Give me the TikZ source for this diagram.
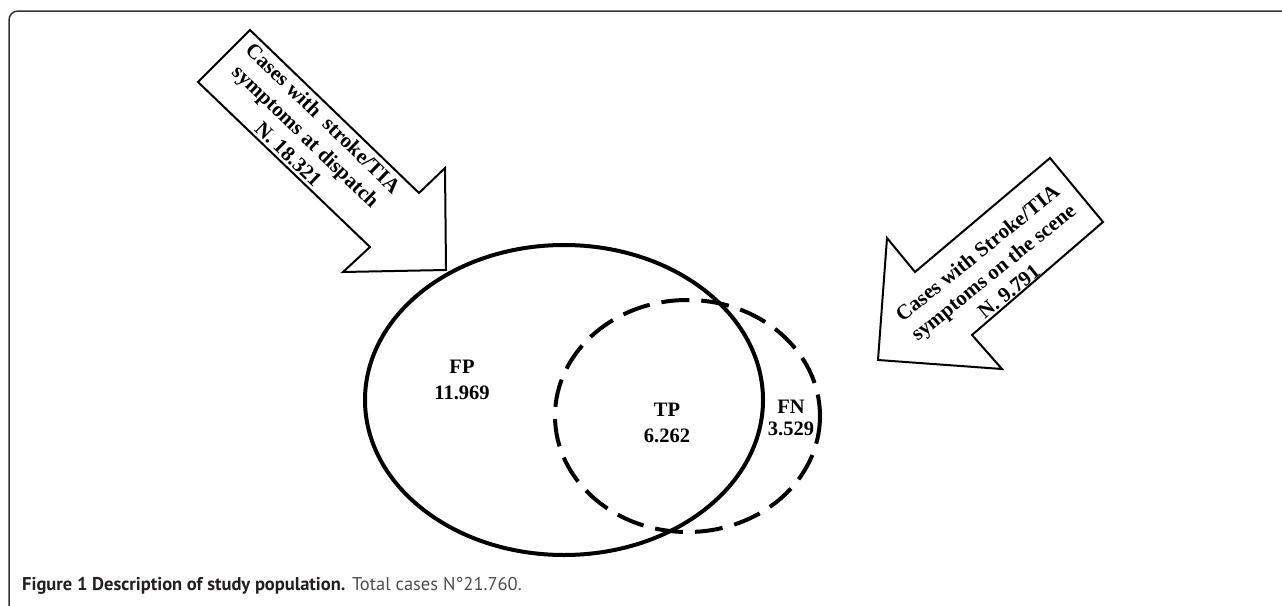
\documentclass[tikz,border=0pt]{standalone}
\usepackage{fontspec}
\setmainfont{Liberation Serif}
\newfontfamily\capfont{PT Sans}
\definecolor{framecol}{gray}{0.2}
\definecolor{capdark}{HTML}{231F20}
\definecolor{capgray}{HTML}{4D4D4D}
\begin{document}
\begin{tikzpicture}[x=1pt,y=-1pt,
  framestyle/.style={draw=framecol,line width=1.5pt,rounded corners=9pt},
  arrowshape/.style={draw=black,line width=2pt,line join=miter,fill=white},
  solidset/.style={draw=black,line width=4pt},
  dashedset/.style={draw=black,line width=4pt,dash pattern=on 28pt off 12pt},
  arrowtext/.style={font=\bfseries\fontsize{21}{25}\selectfont,align=center,inner sep=0pt},
  vlabel/.style={font=\bfseries\fontsize{20.5}{26}\selectfont,align=center,inner sep=0pt},
  captext/.style={font=\capfont\fontsize{18.5}{22}\selectfont,anchor=base west,inner sep=0pt}]
\useasboundingbox (0,0) rectangle (1282,605);
\clip (0,0) rectangle (1282,605);
% frame
\draw[framestyle] (1300,11) -- (9,11) -- (9,620) -- (40,620);
% sets
\draw[solidset] (564,400) ellipse [x radius=199, y radius=155];
\draw[dashedset] (687.5,416) ellipse [x radius=132.5, y radius=116];
% left arrow
\draw[arrowshape] (250,30) coordinate (la1) -- (419,193) -- (445,168) -- (446,270) coordinate (ltip) -- (343,272) -- (370,247) -- (198,82) -- cycle;
\node[arrowtext,rotate=-44] (ltext) at (306,136) {Cases with\ \ stroke/TIA\\symptoms at dispatch\\N. 18.321};
% right arrow
\draw[arrowshape] (1050,158) coordinate (ra1) -- (915,272) -- (887,238) -- (878,360) coordinate (rtip) -- (1002,369) -- (972,335) -- (1103,222) -- cycle;
\node[arrowtext,rotate=39] (rtext) at (993,272) {Cases with Stroke/TIA\\symptoms on the scene\\N. 9.791};
% labels
\node[vlabel] (fp) at (462,380) {FP\\11.969};
\node[vlabel] (tp) at (667,423) {TP\\6.262};
\node[vlabel,font=\bfseries\fontsize{20.5}{22}\selectfont] (fn) at (791,418) {FN\\3.529};
% caption
\node[captext] (cap) at (22,590) {\textcolor{capdark}{\textbf{Figure 1 Description of study population.}} \textcolor{capgray}{Total cases N°21.760.}};
\end{tikzpicture}
\end{document}
